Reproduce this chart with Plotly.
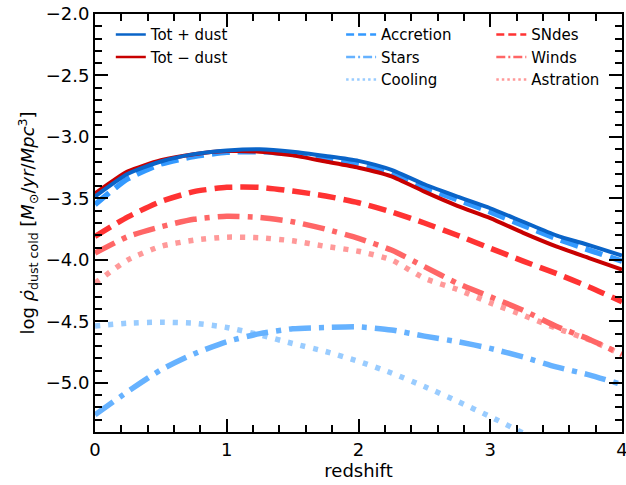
import plotly.graph_objects as go

redshift = [0, 0.25, 0.5, 0.75, 1.0, 1.25, 1.5, 1.75, 2.0, 2.25, 2.5, 2.75, 3.0, 3.25, 3.5, 3.75, 4.0]

tot_plus_dust = [-3.485, -3.30, -3.20, -3.14, -3.11, -3.10, -3.12, -3.155, -3.195, -3.268, -3.385, -3.485, -3.58, -3.69, -3.80, -3.88, -3.965]
tot_minus_dust = [-3.46, -3.28, -3.19, -3.14, -3.115, -3.12, -3.15, -3.20, -3.25, -3.32, -3.445, -3.56, -3.66, -3.78, -3.89, -3.985, -4.08]
accretion = [-3.55, -3.34, -3.22, -3.16, -3.125, -3.12, -3.14, -3.18, -3.22, -3.295, -3.41, -3.51, -3.61, -3.72, -3.825, -3.92, -4.01]
stars = [-5.26, -5.07, -4.895, -4.765, -4.665, -4.60, -4.56, -4.55, -4.545, -4.57, -4.62, -4.665, -4.72, -4.79, -4.87, -4.935, -5.015]
cooling = [-4.537, -4.515, -4.507, -4.515, -4.55, -4.61, -4.68, -4.745, -4.825, -4.92, -5.03, -5.15, -5.275, -5.41, -5.55, None, None]
sndes = [-3.81, -3.65, -3.525, -3.445, -3.41, -3.41, -3.44, -3.48, -3.535, -3.61, -3.70, -3.80, -3.905, -4.01, -4.11, -4.22, -4.34]
winds = [-3.945, -3.81, -3.73, -3.67, -3.645, -3.655, -3.69, -3.75, -3.825, -3.92, -4.055, -4.19, -4.30, -4.41, -4.54, -4.645, -4.77]
astration = [-4.19, -4.00, -3.89, -3.84, -3.815, -3.82, -3.845, -3.89, -3.93, -4.00, -4.15, -4.24, -4.35, -4.45, -4.555, -4.65, -4.77]

series = [
    # name, values, color, dash, width, legend
    ("Tot + dust", tot_plus_dust, "#0a64c8", "solid", 4, "legend"),
    ("Tot \u2212 dust", tot_minus_dust, "#c80000", "solid", 4, "legend"),
    ("Accretion", accretion, "#3399ff", "18px,8px", 5.5, "legend2"),
    ("Stars", stars, "#66b2ff", "22px,8px,5px,8px", 5.5, "legend2"),
    ("Cooling", cooling, "#99ccff", "5px,8px", 5.5, "legend2"),
    ("SNdes", sndes, "#ff3333", "18px,8px", 5.5, "legend3"),
    ("Winds", winds, "#ff6666", "22px,8px,5px,8px", 5.5, "legend3"),
    ("Astration", astration, "#ff9999", "5px,8px", 5.5, "legend3"),
]

legend_dash = {"solid": "solid", "18px,8px": "8px,4px", "22px,8px,5px,8px": "9px,3px,2px,3px", "5px,8px": "2.5px,3px"}

fig = go.Figure()
draw_order = [4, 3, 7, 6, 5, 2, 1, 0]
for i in draw_order:
    name, vals, color, dash, width, lg = series[i]
    fig.add_trace(go.Scatter(x=redshift, y=vals, mode="lines", name=name, showlegend=False,
                             line=dict(color=color, dash=dash, width=width, shape="spline", smoothing=0.6)))
for name, vals, color, dash, width, lg in series:
    fig.add_trace(go.Scatter(x=[None], y=[None], mode="lines", name=name, legend=lg,
                             line=dict(color=color, dash=legend_dash[dash], width=2.5)))

font = "DejaVu Sans, Arial, sans-serif"
axis_common = dict(showline=True, linecolor="black", linewidth=2, mirror="allticks",
                   ticks="inside", ticklen=13, tickwidth=2, tickcolor="black",
                   showgrid=False, zeroline=False, ticklabeloverflow="allow",
                   tickfont=dict(family=font, size=18, color="black"))

fig.update_xaxes(range=[0, 4], dtick=1, tick0=0,
                 minor=dict(ticks="inside", ticklen=7, tickwidth=1.5, dtick=0.2, tickcolor="black"),
                 title=dict(text="redshift", font=dict(family=font, size=18, color="black"), standoff=4),
                 **axis_common)
fig.update_yaxes(range=[-5.4, -2.0], dtick=0.5, tick0=-2.0, tickformat=".1f",
                 minor=dict(ticks="inside", ticklen=7, tickwidth=1.5, dtick=0.1, tickcolor="black"),
                 title=dict(text="log <i>\u03c1\u0307</i><sub>dust cold</sub> [<i>M</i><sub>\u2299</sub>/<i>yr</i>/<i>Mpc</i><sup>3</sup>]",
                            font=dict(family=font, size=18, color="black"), standoff=6),
                 **axis_common)

leg_common = dict(font=dict(family=font, size=15, color="black"), bgcolor="rgba(0,0,0,0)",
                  xanchor="left", yanchor="top", borderwidth=0, tracegroupgap=0)
fig.update_layout(
    width=626, height=485,
    margin=dict(l=95, r=4, t=14, b=53, autoexpand=False),
    plot_bgcolor="white", paper_bgcolor="white",
    legend=dict(x=0.03, y=0.99, **leg_common),
    legend2=dict(x=0.467, y=0.99, **leg_common),
    legend3=dict(x=0.752, y=0.99, **leg_common),
)

fig.write_html("out.html", config={"displayModeBar": False},
               post_script="document.body.style.margin='0';document.body.style.overflow='hidden';")
